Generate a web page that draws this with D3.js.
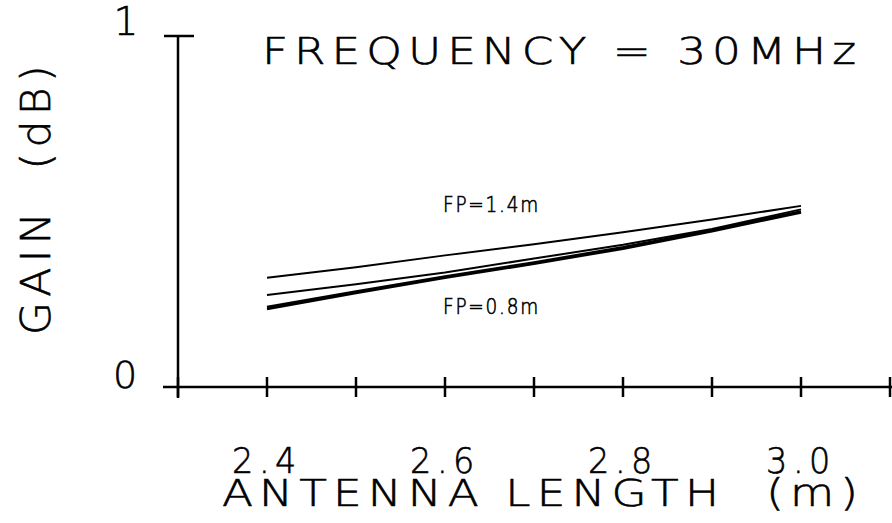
<!DOCTYPE html>
<html lang="en">
<head>
    <meta charset="UTF-8">
    <script src="https://d3js.org/d3.v7.min.js"></script>
    <title>Gain vs antenna length</title>
    <style>
        body { margin: 0; background: #fff; }
        text { font-family: "DejaVu Sans", sans-serif; font-weight: 200; fill: #000; stroke: #000; stroke-width: 0.6; white-space: pre; }
    </style>
</head>
<body>
    <svg width="892" height="523"></svg>
    <script>
        var width = 892, height = 523;

        // antenna length (m)
        var lengths = [2.4, 2.5, 2.6, 2.7, 2.8, 2.9, 3.0];
        // gain (dB) for each feed point position
        var fp08 = [0.222, 0.268, 0.311, 0.351, 0.394, 0.444, 0.497];
        var fp10 = [0.228, 0.272, 0.315, 0.355, 0.398, 0.447, 0.500];
        var fp12 = [0.262, 0.293, 0.326, 0.366, 0.405, 0.450, 0.506];
        var fp14 = [0.311, 0.341, 0.375, 0.407, 0.441, 0.477, 0.516];
        var xTicks = [2.3, 2.4, 2.5, 2.6, 2.7, 2.8, 2.9, 3.0, 3.1];
        var xLabels = [2.4, 2.6, 2.8, 3.0];

        var series = [
            { name: 'FP=0.8m', values: fp08, w: 2.5 },
            { name: 'FP=1.0m', values: fp10, w: 2.5 },
            { name: 'FP=1.2m', values: fp12, w: 2 },
            { name: 'FP=1.4m', values: fp14, w: 2 }
        ];

        var x = d3.scaleLinear().domain([2.3, 3.1]).range([178, 890]);
        var y = d3.scaleLinear().domain([0, 1]).range([387, 36]);

        var svg = d3.select('svg');

        // stretched plotter-like text
        function label(sel, size, len, spacing) {
            return sel.attr('font-size', size)
                .attr('letter-spacing', spacing)
                .attr('textLength', len)
                .attr('lengthAdjust', 'spacingAndGlyphs');
        }

        // axes
        svg.append('line')
            .attr('x1', 163).attr('x2', 892)
            .attr('y1', y(0)).attr('y2', y(0))
            .attr('stroke', '#000').attr('stroke-width', 2.5);
        svg.append('line')
            .attr('x1', x(2.3)).attr('x2', x(2.3))
            .attr('y1', y(1)).attr('y2', y(0) + 11)
            .attr('stroke', '#000').attr('stroke-width', 2.5);
        svg.append('line')
            .attr('x1', x(2.3) - 14).attr('x2', x(2.3) + 16)
            .attr('y1', y(1)).attr('y2', y(1))
            .attr('stroke', '#000').attr('stroke-width', 2.5);

        svg.selectAll('.xtick')
            .data(xTicks)
            .join('line')
            .attr('class', 'xtick')
            .attr('x1', function(d) { return x(d); })
            .attr('x2', function(d) { return x(d); })
            .attr('y1', y(0) - 10)
            .attr('y2', y(0) + 10)
            .attr('stroke', '#000').attr('stroke-width', 2.5);

        svg.selectAll('.xlabel')
            .data(xLabels)
            .join('text')
            .attr('class', 'xlabel')
            .attr('x', function(d) { return x(d) - 35; })
            .attr('y', 473)
            .call(label, 36, 70, 6)
            .text(function(d) { return d.toFixed(1); });

        svg.append('text')
            .attr('x', 126).attr('y', 35)
            .attr('text-anchor', 'middle')
            .attr('font-size', 39)
            .text('1');
        svg.append('text')
            .attr('x', 125).attr('y', 388)
            .attr('text-anchor', 'middle')
            .attr('font-size', 38)
            .text('0');

        svg.append('text')
            .attr('x', 222).attr('y', 506)
            .call(label, 37, 642, 5)
            .text('ANTENNA LENGTH  (m)');

        svg.append('text')
            .attr('transform', 'translate(50,335) rotate(-90)')
            .call(label, 40, 275, 5)
            .text('GAIN  (dB)');

        svg.append('text')
            .attr('x', 262).attr('y', 64)
            .call(label, 38, 600, 5)
            .text('FREQUENCY = 30MHz');

        // curves
        var line = d3.line()
            .x(function(d, i) { return x(lengths[i]); })
            .y(function(d) { return y(d); });

        svg.selectAll('.curve')
            .data(series)
            .join('path')
            .attr('class', 'curve')
            .attr('d', function(s) { return line(s.values); })
            .attr('fill', 'none')
            .attr('stroke', '#000')
            .attr('stroke-width', function(s) { return s.w; });

        svg.append('text')
            .attr('x', 443).attr('y', 212)
            .call(label, 21, 97, 2)
            .text('FP=1.4m');
        svg.append('text')
            .attr('x', 443).attr('y', 314)
            .call(label, 21, 97, 2)
            .text('FP=0.8m');
    </script>
</body>
</html>
